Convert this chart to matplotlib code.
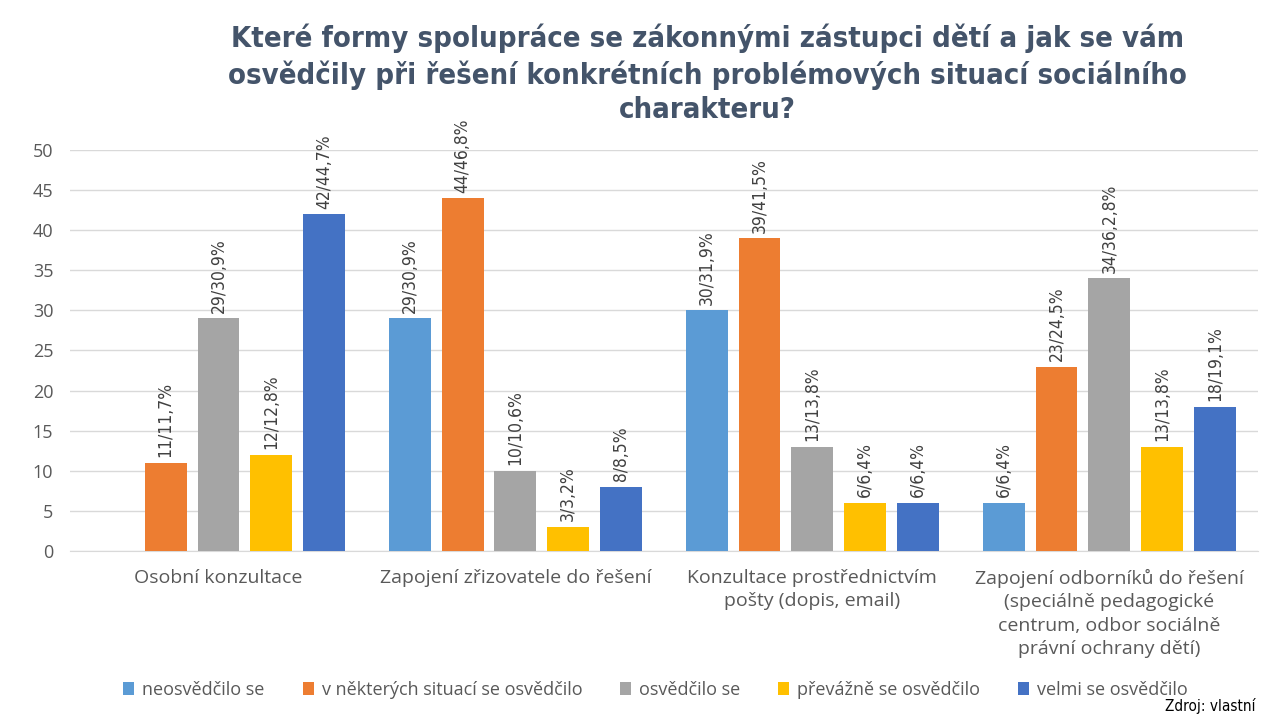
import matplotlib
matplotlib.use("Agg")
import matplotlib.pyplot as plt
import numpy as np
from matplotlib.patches import Patch

categories = [
    "Osobní konzultace",
    "Zapojení zřizovatele do řešení",
    "Konzultace prostřednictvím\npošty (dopis, email)",
    "Zapojení odborníků do řešení\n(speciálně pedagogické\ncentrum, odbor sociálně\nprávní ochrany dětí)",
]
series_names = [
    "neosvědčilo se",
    "v některých situací se osvědčilo",
    "osvědčilo se",
    "převážně se osvědčilo",
    "velmi se osvědčilo",
]
neosvedcilo = [np.nan, 29, 30, 6]
v_nekterych = [11, 44, 39, 23]
osvedcilo = [29, 10, 13, 34]
prevazne = [12, 3, 6, 13]
velmi = [42, 8, 6, 18]

labels_neosvedcilo = ["", "29/30,9%", "30/31,9%", "6/6,4%"]
labels_v_nekterych = ["11/11,7%", "44/46,8%", "39/41,5%", "23/24,5%"]
labels_osvedcilo = ["29/30,9%", "10/10,6%", "13/13,8%", "34/36,2,8%"]
labels_prevazne = ["12/12,8%", "3/3,2%", "6/6,4%", "13/13,8%"]
labels_velmi = ["42/44,7%", "8/8,5%", "6/6,4%", "18/19,1%"]

yticks = [0, 5, 10, 15, 20, 25, 30, 35, 40, 45, 50]

values = [neosvedcilo, v_nekterych, osvedcilo, prevazne, velmi]
labels = [labels_neosvedcilo, labels_v_nekterych, labels_osvedcilo, labels_prevazne, labels_velmi]
colors = ["#5b9bd5", "#ed7d31", "#a5a5a5", "#ffc000", "#4472c4"]

narrow = ["DejaVu Sans"]
ui = ["Open Sans", "DejaVu Sans"]

fig = plt.figure(figsize=(12.61, 7.2), dpi=100)
ax = fig.add_axes([0.0555, 0.2347, 0.9420, 0.557])

x = np.arange(len(categories))
step = 0.178
width = 0.141
for i, (vals, labs, col) in enumerate(zip(values, labels, colors)):
    pos = x + (i - 2) * step
    bars = ax.bar(pos, vals, width=width, color=col, zorder=3)
    for b, v, lab in zip(bars, vals, labs):
        if np.isnan(v) or not lab:
            continue
        ax.annotate(lab, (b.get_x() + b.get_width() / 2, v), xytext=(0, 4),
                    textcoords="offset points", rotation=90, ha="center", va="bottom",
                    fontsize=12.5, color="#404040", family=narrow, stretch="condensed")

ax.set_xlim(-0.5, 3.5)
ax.set_ylim(0, 50)
ax.set_yticks(yticks)
ax.set_xticks(x)
ax.set_xticklabels(categories, family=ui, fontsize=14, color="#595959", linespacing=1.38)
ax.tick_params(axis="both", length=0, colors="#595959")
ax.tick_params(axis="y", labelsize=13, pad=12)
ax.tick_params(axis="x", pad=13)
for t in ax.get_yticklabels():
    t.set_family(ui)
ax.grid(axis="y", color="#d9d9d9", linewidth=1, zorder=0)
for s in ["top", "right", "left"]:
    ax.spines[s].set_visible(False)
ax.spines["bottom"].set_color("#d9d9d9")

title_kw = dict(ha="center", va="center", fontsize=21, fontweight="bold", color="#44546a",
                family=narrow, stretch="condensed", linespacing=1.3)
fig.text(0.561, 0.921,
         "Které formy spolupráce se zákonnými zástupci dětí a jak se vám\n"
         "osvědčily při řešení konkrétních problémových situací sociálního",
         **title_kw)
fig.text(0.561, 0.847, "charakteru?", **title_kw)

handles = [Patch(facecolor=c, label=n) for c, n in zip(colors, series_names)]
leg = fig.legend(handles=handles, loc="center", bbox_to_anchor=(0.52, 0.042), ncol=5,
                 frameon=False, handlelength=0.6, handleheight=0.8, handletextpad=0.45,
                 columnspacing=2.1, prop={"family": ui, "size": 13})
for t in leg.get_texts():
    t.set_color("#595959")

fig.text(0.996, 0.008, "Zdroj: vlastní", ha="right", va="bottom", fontsize=11,
         color="#000000", family=narrow, stretch="condensed")

fig.savefig("out.png", dpi=100, facecolor="white")
